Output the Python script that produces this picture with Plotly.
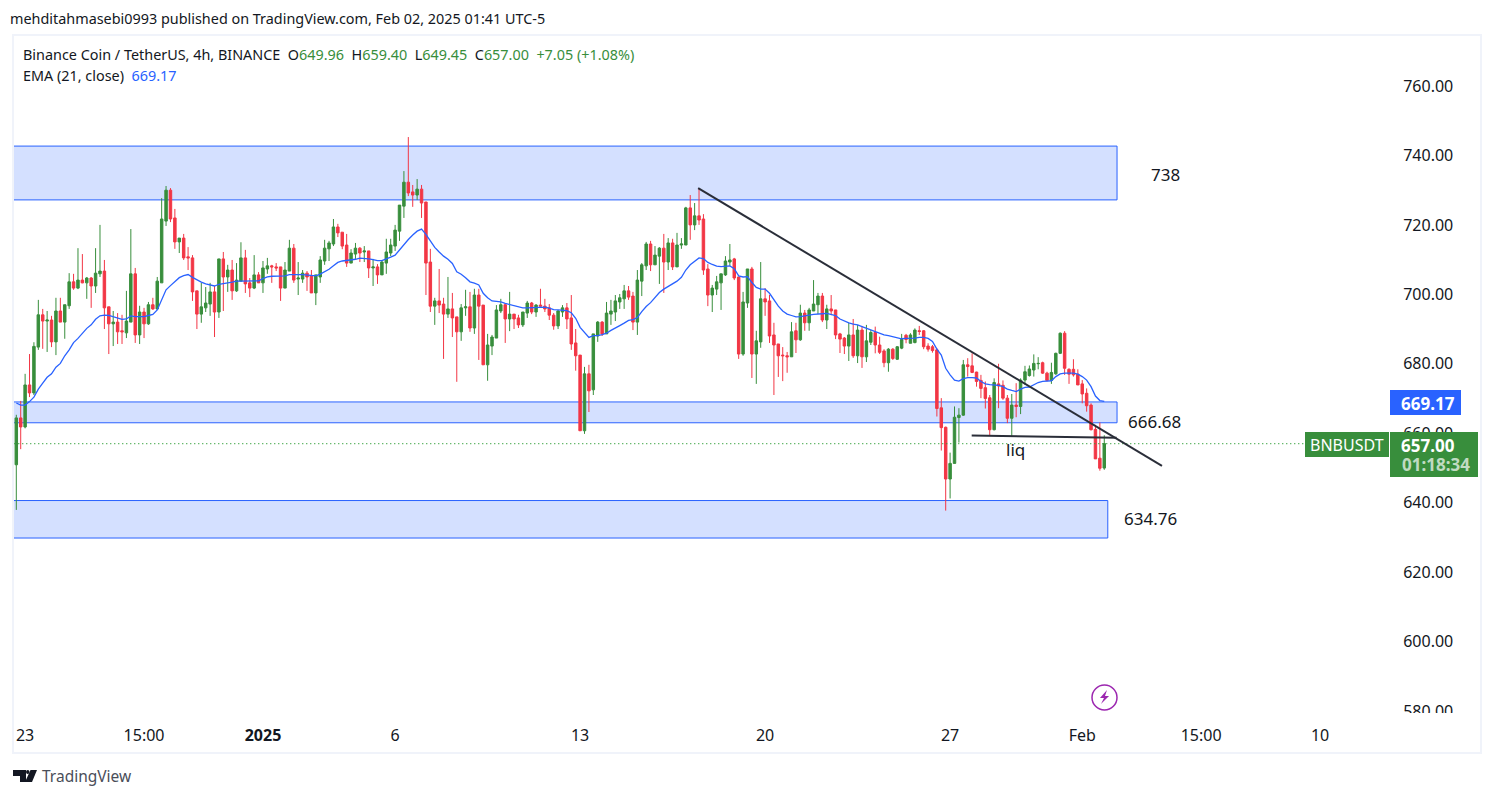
import plotly.graph_objects as go

# BNBUSDT 4h bars
open_p = [650.9,664.4,661.8,673.9,671.6,684.8,694.1,692.3,692.6,686.3,
695.2,692,696.7,703.6,701.8,704.1,703.3,704.7,702.4,705.9,
706.7,696.4,691.5,692,689.5,688.9,692,705.9,688.3,694.9,
691.5,697,695.8,703.3,721.1,730,722,715.1,716.2,710.8,
710.5,701,694.3,696.1,697.2,700.7,694.9,710.2,705,707,
701,703.8,710.5,703.3,701.8,705.6,703.3,707.3,708.2,707.9,
707.9,701.8,706.7,713.3,704.4,704.4,706.1,705.3,700.4,705,
709.6,713.1,714.5,719.4,717.9,714.2,709,711.6,713.3,712.2,
712.5,707.6,707.9,705.6,709,711.9,713.9,718.2,725.4,732.3,
729.5,728.6,730.3,726.6,709.3,696.6,698.1,697.2,694.3,695.8,
693.5,689.2,696.1,696.4,690.3,699.8,696.9,679.7,685.1,687.4,
695.2,697,692.9,694.3,693.2,691.2,694.6,697.5,694.9,696.9,
696.6,696.1,694,690.9,694.9,696.1,693.2,686,682.5,660.7,
677.1,672.5,688,692,688.6,694.3,694.9,697.8,698.7,701,
699.5,692,703.8,708.2,714.5,708.5,711,713.3,709.3,714.8,
707.9,714.2,714.2,724.9,720,722.6,721.7,707.3,699.8,701.5,
703.3,705.6,709.3,710.2,705,682.8,697.5,707.3,682.8,686.3,
698.7,698.1,688.3,685.7,682.5,682.3,682,689.5,686.9,694.6,
691.8,695.2,697,699.5,692.6,695.8,695.5,688.6,687.4,685.1,
688.3,682.3,689.7,682,686.2,689,685.4,683.7,680.3,684.2,
681.3,684.5,688.2,685.9,686.1,689.5,689.5,685.1,684.9,684,
667.3,661.7,646.8,651.3,664.5,665.2,679.7,679.4,677.6,675.2,
673.1,670.2,661,674.2,673.8,670.1,664.3,668.1,667.7,675.3,
676.6,678.2,680,680.3,677.3,675.2,677.1,683,688.8,678.4,
678.4,677,674.2,671.5,668.1,661.1,652.8,649.96]

high_p = [665.3,669.3,677.1,682.8,686.2,698.4,695.8,695.2,693.8,699,
699,697,706.1,705.9,713.3,711.6,705,705,713.3,720,
709.9,696.4,695.2,694.6,694.1,701,718.8,707.6,696.7,696.1,
697.8,699,705,727.7,731.2,730.6,724.6,716.2,717.4,713.6,
711.3,701,703.3,702.1,703.3,702.4,710.2,712.2,708.5,709.9,
709,715,712.8,704.7,711.3,706.4,709.6,710.5,708.5,709,
707.9,709.3,715.7,714.5,709.3,707,706.7,707,705.6,711,
715.7,715.4,721.7,720.3,717.9,717.4,713,714.8,713.6,713.9,
712.5,710.2,708.7,709.9,716,716,720,725.7,735.5,745.3,
731.5,733.2,731.5,726.6,713.1,699,707.3,699,705,700.4,
693.5,697.2,701.3,700.7,701.6,701.6,696.9,688.6,688.3,696.9,
698.7,697.5,700.7,694.3,694.1,694.9,698.1,697.8,697.2,701.6,
698.7,697.2,694.6,695.5,696.9,697.5,699.8,690,682.5,679.1,
679.7,688.6,692.3,692.3,697.8,698.4,699.8,700.1,702.7,702.4,
700.7,707,709,715.1,715.4,713.9,713.6,717.4,716.2,716,
717.7,716.2,725.2,728.6,726.3,730.6,723.1,708.7,702.7,705.3,
705.9,711,714.5,710.5,705,700.7,707.3,707.9,689.5,709.3,
701.8,699.8,691.8,685.7,684.8,683.4,692,691.8,697,695.5,
696.1,704.1,700.4,700.4,697,699.8,695.5,688.9,687.7,691.8,
692.9,691.2,690.9,691.2,689.7,690.7,687.8,684.2,684.5,684.5,
685.1,688.6,688.6,688.8,690.2,690.9,689.7,685.9,685.4,684.5,
670.1,661.9,654.4,667.7,667.2,681.1,681.6,683,677.7,676.8,
674.9,671,675.8,680,675.2,671,671.3,674.4,675.8,679.4,
679.5,682.7,681.9,680.6,677.7,680.3,683.2,689,689.4,678.7,
681.3,678.4,675.3,672.9,668.6,662.4,663.1,659.4]

low_p = [637.9,655.4,661.4,670.4,671,684,684.3,683.4,684.8,682.5,
692,687.2,695.8,701.3,701.5,703.2,698.7,696.1,700.4,705,
690,682.8,685.1,685.7,685.7,687.4,692,686,685.7,687.4,
691.2,695.5,695.5,703.3,719.7,720.8,713.1,711.9,709.9,707,
698.1,690,691.8,694.9,693.8,687.7,693.2,695.2,700.7,698.4,
700.7,703.8,700.4,699.2,701.5,703.3,700.4,705.9,703.3,706.7,
698.1,701.8,706.7,703.3,699.8,703.3,701,700.4,696.9,703.3,
708.5,709.6,713.9,716.5,713,707.9,709,710.2,709.3,709.3,
704.7,702.4,703,705.6,705.9,711,712.5,715.4,722,728.3,
725.2,727.2,722,699.8,694.9,691.2,694.6,681.4,693.2,687.7,
674.8,686.6,693.8,689.2,688.6,681.1,679.7,675.1,682.5,687.4,
694.6,686,689.4,690,690.3,690.6,693.2,694.3,693.5,696.6,
694.9,692.6,689.8,690,693.5,690,684,678,660.7,659.8,
666.1,671,686.3,688,688.6,691.2,692.3,695.8,695.8,698.4,
689.7,688.3,699.5,707,706.7,708.5,703,700.4,707,707,
707.9,713.1,714.2,715.7,718.5,720,705.6,696.6,694.9,699.8,
695.5,705.3,708.2,704.1,681.4,682.3,696.1,675.9,674.2,684.6,
693.8,686,671,676.2,675,677.4,682,683.1,686.6,689.5,
689.5,695.2,694.3,692,690,694,687.1,683.1,682.8,680.8,
681.7,680.2,678.8,680.5,685.4,683,682.8,679,677.7,681.1,
681.1,684.2,685.9,685.9,685.9,688.3,684.2,683.5,683.2,664.8,
655,637.7,641.2,651.3,657.3,665,676.3,677.3,673.4,670.1,
667.1,659.4,660.8,667.2,669.6,662.9,659.2,664.6,665.5,673.9,
676.3,676.3,678.4,677.1,674.9,674.2,676.8,682.8,676.8,674.2,
676.3,673.9,668.6,666.2,660.8,652.6,649.2,649.45]

close_p = [664.4,661.8,673.9,671.6,685,694.1,692.3,692.6,686.3,695.2,
692,697,703.6,701.8,704.1,703.3,704.7,702.4,706.1,706.7,
696.1,691.5,692,689.2,689.2,692.3,705.9,688.3,694.9,691.5,
697,695.8,703.8,721.7,730,721.7,715.1,716.2,710.5,710.5,
700.7,694.3,696.4,697.5,700.7,694.9,710.2,705,707,701,
704.1,710.5,703,701.8,705.6,703.3,707.6,708.2,707.9,707.6,
701.8,707,713.3,704.1,704.7,706.1,705,700.4,705.6,709.9,
713.3,714.8,719.4,717.7,713.9,709,711.9,713.3,711.9,712.5,
707.6,707.9,705.6,709.3,712.2,714.2,718.5,725.7,732.3,729.2,
728.6,730.3,726.3,709,696.6,698.1,696.9,694.3,695.8,693.2,
689.2,696.1,696.4,690.3,699.8,696.6,679.7,685.4,687.7,695.5,
697,692.9,694.3,692.9,691.2,694.9,697.5,694.9,696.9,696.6,
695.8,694,690.9,695.2,696.1,692.9,685.7,682.3,660.7,677.1,
672.2,688.6,692,688.6,694.6,695.2,698.1,699,701,699.2,
692,704.1,708.5,714.5,708.5,711.3,713.3,709.3,714.8,707.9,
714.2,714.5,724.9,720,722.6,721.4,707,699.8,701.8,703.6,
705.9,709.6,709.9,704.7,682.8,697.8,707.3,682.8,686.6,698.7,
697.8,688,685.4,682.3,682.3,682,689.2,686.9,694.6,691.8,
695.5,697.2,699.5,692.6,695.8,695.2,688.3,687.1,685.1,688.3,
682.3,689.7,682,686.6,689,685.4,683.3,680.3,684.2,681.5,
684.9,687,687,688.3,689.7,689.3,684.9,684.2,683.8,667.1,
661.6,646.8,651.3,664.6,665.2,679.7,679.2,677.5,674.9,672.9,
670,661,674.6,673.6,670.1,664.3,668.1,667.7,675.3,677.7,
678.5,680.1,680.1,677.3,675.2,677.5,683,688.8,678.7,677,
676.8,673.9,671.3,667.9,661,652.6,649.9,657]

ema_21 = [668.7,668.1,668.1,669.1,670.4,672.7,674.4,676.1,677.1,679,
680.1,682.3,684,686.1,687.3,688.8,690.2,691.2,692.8,693.8,
694,693.9,693.6,693.1,692.8,692.9,693.8,693.6,693.6,693.6,
693.9,694.2,695.5,698.4,701.3,702.5,703.8,704.8,705.4,705.7,
704.9,704.1,703.5,703,702.8,702.4,702.9,703.2,703.3,703.5,
703.8,703.8,703.8,703.8,703.8,703.9,704.5,705,705.2,705.2,
705.1,705.3,705.7,705.8,705.7,705.7,705.6,705.4,705.3,705.8,
706.5,707.2,708.2,709.2,709.6,709.7,709.8,710.1,710.4,710.4,
710.2,710,709.7,709.7,710.1,710.7,711.3,712.8,714.5,715.8,
717.1,718.2,718.8,717.3,715.4,713.5,712.2,711,710.1,708.9,
706.5,705.8,704.8,703.6,703.2,702.7,700.3,699,698.1,698,
697.8,697.4,697.1,696.8,696.3,696.1,696.1,696.1,696.1,696.3,
696.3,696,695.6,695.5,695.5,695.3,694.7,693.1,690.5,688.9,
687.6,688.1,688.1,688.4,688.8,689.6,690.2,691,691.7,692.5,
692.7,693.3,695,696.5,697.6,699,700.5,701.5,702.3,702.9,
703.8,704.9,707,708.5,709.6,710.5,710.3,709.2,708.6,708.1,
708,708.1,708.2,707.4,705.3,705,705.1,703.4,702,701.5,
701.5,700.3,698.4,696.6,695.2,694.3,693.9,693.5,693.6,693.9,
694,694.2,694.4,694.4,694.5,694.3,693.9,692.9,692.3,691.8,
691.4,691.2,690.7,690.2,689.7,689.3,688.6,688.3,688.1,687.8,
687.4,687.2,687.3,687.3,687.4,687.6,687.6,687.3,686.4,684.2,
682.5,678.7,676.8,675.3,675,675.7,676,676,675.9,674.9,
674.2,674,673.9,673.8,673.4,672.7,672.3,672,672.7,673.2,
673.3,673.9,674.6,674.9,675,675.1,676.3,677.1,677.3,677.3,
677.3,677,676.3,675.3,673.4,670.7,669.4,669.17]

bar_idx = list(range(len(close_p)))
price_ticks = [580, 600, 620, 640, 660, 680, 700, 720, 740, 760]
time_tick_idx = [2, 29, 56, 86, 128, 170, 212, 242, 269, 296]
time_tick_text = ["23", "15:00", "<b>2025</b>", "6", "13", "20", "27", "Feb", "15:00", "10"]

# drawn zones and lines: (top, bottom, right end index)
zones = [(742.7, 727.2, 249.9), (669.0, 663.0, 249.9), (640.6, 629.8, 247.8)]
trend_x = [154.8, 260.1]
trend_y = [730.6, 650.6]
liq_x = [216.9, 249.8]
liq_y = [659.3, 658.7]
zone_labels = [("738", 260.8, 734.4), ("666.68", 258.5, 663.5), ("634.76", 257.6, 635.3), ("liq", 226.9, 655.2)]

GREEN = "#388e3c"
RED = "#f23645"
BLUE = "#2962ff"
TEXT = "#131722"
FONT = "Noto Sans"

# pane edges in page pixels, the page body adds 8px
PL, PR, PT, PB = 13, 1380, 35, 713


def px(x):
    return (x - PL) / (PR - PL)


def py(y):
    return (PB - y) / (PB - PT)


def label(x, y, text, size=14, color=TEXT, anchor="left", family=FONT):
    return dict(x=px(x), y=py(y), xref="paper", yref="paper", text=text, showarrow=False,
                xanchor=anchor, yanchor="middle", font=dict(size=size, color=color, family=family),
                borderpad=0, borderwidth=0)


def box(x0, y0, x1, y1, fill="rgba(0,0,0,0)", line=None, width=0):
    return dict(type="rect", xref="paper", yref="paper", x0=px(x0), x1=px(x1), y0=py(y0), y1=py(y1),
                fillcolor=fill, line=dict(color=line or fill, width=width), layer="above")


def poly(points, fill):
    d = "M" + " L".join(f"{px(a):.5f},{py(b):.5f}" for a, b in points) + " Z"
    return dict(type="path", xref="paper", yref="paper", path=d, fillcolor=fill,
                line=dict(width=0), layer="above")


fig = go.Figure()

fig.add_trace(go.Candlestick(
    x=bar_idx, open=open_p, high=high_p, low=low_p, close=close_p,
    increasing=dict(line=dict(color=GREEN, width=1), fillcolor=GREEN),
    decreasing=dict(line=dict(color=RED, width=1), fillcolor=RED),
    whiskerwidth=0, showlegend=False,
))
fig.add_trace(go.Scatter(x=bar_idx, y=ema_21, mode="lines", line=dict(color=BLUE, width=1.3), showlegend=False))

shapes = []
for top, bottom, right in zones:
    shapes.append(dict(type="rect", xref="x", yref="y", x0=-5, x1=right, y0=bottom, y1=top,
                       fillcolor="rgba(41,98,255,0.2)", line=dict(color=BLUE, width=1), layer="below"))
shapes.append(dict(type="line", xref="x", yref="y", x0=-5, x1=292.6, y0=close_p[-1], y1=close_p[-1],
                   line=dict(color="#2e9e36", width=1.4, dash="1px,3px")))
shapes.append(dict(type="line", xref="x", yref="y", x0=trend_x[0], x1=trend_x[1], y0=trend_y[0], y1=trend_y[1],
                   line=dict(color="#2a2e39", width=2)))
shapes.append(dict(type="line", xref="x", yref="y", x0=liq_x[0], x1=liq_x[1], y0=liq_y[0], y1=liq_y[1],
                   line=dict(color="#2a2e39", width=2)))

# cut the lowest price label at the pane edge, then the outer frame
shapes.append(box(1385, 713, 1479, 751, fill="white"))
shapes.append(box(13, 35, 1481, 753, line="#f0f3fa", width=2))
# price tags
shapes.append(box(1390, 390, 1461, 415, fill=BLUE))
shapes.append(box(1305, 432, 1389, 457, fill=GREEN))
shapes.append(box(1390, 432, 1478, 477, fill=GREEN))
# bolt badge
shapes.append(dict(type="circle", xref="paper", yref="paper", x0=px(1092), x1=px(1117), y0=py(685), y1=py(710),
                   line=dict(color="#9c27b0", width=1.5), fillcolor="white", layer="above"))
shapes.append(poly([(1107, 690), (1100, 698), (1104, 698), (1101, 704), (1109, 696), (1105, 696)], "#9c27b0"))
# TradingView logo
shapes.append(poly([(13, 770), (26, 770), (26, 782), (20, 782), (20, 776), (13, 776)], "#131722"))
shapes.append(dict(type="circle", xref="paper", yref="paper", x0=px(26), x1=px(29.5), y0=py(770), y1=py(774),
                   fillcolor="#131722", line=dict(width=0), layer="above"))
shapes.append(poly([(30.5, 770), (37, 770), (32, 782), (25, 782)], "#131722"))

G = f'<span style="color:{GREEN}">'
SP = "\u00a0\u00a0"
annotations = [
    label(10, 19, "mehditahmasebi0993 published on TradingView.com, Feb 02, 2025 01:41 UTC-5", size=14.4),
    label(23, 54, f"Binance Coin / TetherUS, 4h, BINANCE{SP}O{G}649.96</span>{SP}H{G}659.40</span>{SP}"
                  f"L{G}649.45</span>{SP}C{G}657.00</span>{SP}{G}+7.05 (+1.08%)</span>", size=14.4),
    label(23, 75, f'EMA (21, close){SP}<span style="color:{BLUE}">669.17</span>', size=14.4),
    label(42, 776, "TradingView", size=15.5, color="#4a4e59"),
    label(1428, 403, "<b>669.17</b>", size=17, color="white", anchor="center"),
    label(1347, 445, "BNBUSDT", size=16, color="white", anchor="center"),
    label(1428, 445, "<b>657.00</b>", size=17, color="white", anchor="center"),
    label(1436, 465, "<b>01:18:34</b>", size=17, color="rgba(255,255,255,0.7)", anchor="center"),
]
for text, x, y in zone_labels:
    annotations.append(dict(x=x, y=y, xref="x", yref="y", text=text, showarrow=False,
                            font=dict(size=17, color=TEXT, family=FONT)))

fig.update_layout(
    width=1478, height=782,
    margin=dict(l=PL - 8, r=1486 - PR, t=PT - 8, b=790 - PB, pad=0),
    paper_bgcolor="white", plot_bgcolor="white",
    showlegend=False, boxgap=0.2,
    font=dict(family=FONT, size=16, color=TEXT),
    shapes=shapes, annotations=annotations,
    xaxis=dict(range=[-0.75, 309.6], rangeslider=dict(visible=False), showgrid=False, zeroline=False,
               showline=False, tickmode="array", tickvals=time_tick_idx, ticktext=time_tick_text,
               ticks="outside", ticklen=8, tickcolor="white", tickfont=dict(size=16, color=TEXT)),
    yaxis=dict(range=[579.4, 774.7], side="right", showgrid=False, zeroline=False, showline=False,
               tickmode="array", tickvals=price_ticks, tickformat=".2f",
               ticks="outside", ticklen=19, tickcolor="white", tickfont=dict(size=16, color=TEXT)),
)

fig.write_html("out.html")
